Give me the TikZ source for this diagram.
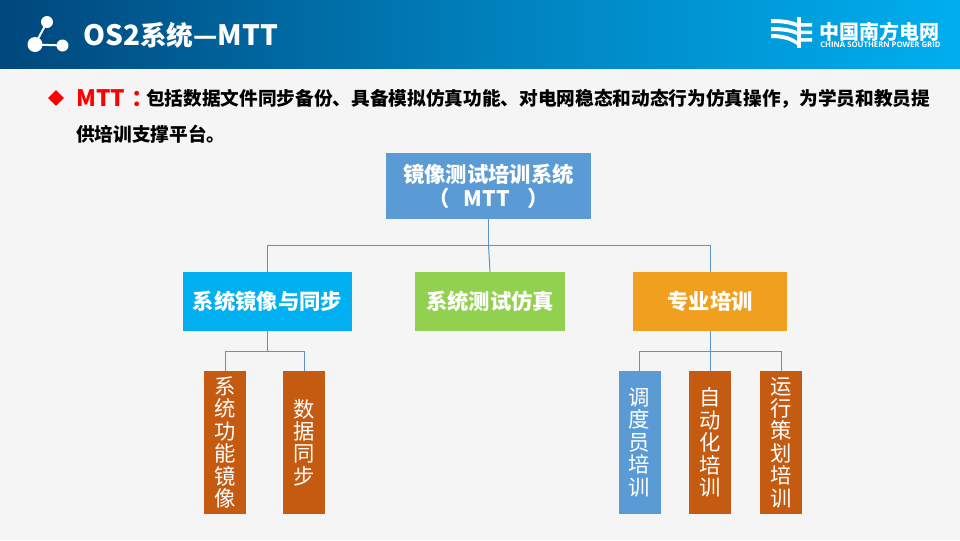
\documentclass[tikz,border=0pt]{standalone}
\usepackage{fontspec}
\setmainfont{Noto Sans CJK SC}
\newfontfamily\latinfont{Open Sans}
\usetikzlibrary{shapes.geometric}

\definecolor{pagegray}{HTML}{F5F5F5}
\definecolor{headdark}{HTML}{00477C}
\definecolor{headlight}{HTML}{00AEEF}
\definecolor{rootblue}{HTML}{5B9BD5}
\definecolor{skyblue}{HTML}{00B0F0}
\definecolor{leafgreen}{HTML}{92D050}
\definecolor{sysorange}{HTML}{F0A01E}
\definecolor{leafbrown}{HTML}{C55A11}
\definecolor{linkblue}{HTML}{5B93C4}

\tikzset{
  box/.style={fill=#1, text=white, inner sep=0pt, align=center, font=\fontsize{16pt}{18pt}\selectfont\bfseries},
  leaf/.style={fill=#1, text=white, inner sep=0pt, align=center, minimum width=31.5pt, minimum height=107pt, font=\fontsize{16pt}{16.8pt}\selectfont},
  link/.style={draw=linkblue, line width=0.75pt},
}

\begin{document}
\begin{tikzpicture}[x=0.75pt, y=-0.75pt]

\useasboundingbox (0,0) rectangle (960,540);
\fill[pagegray] (0,0) rectangle (960,540);
\shade[left color=headdark, right color=headlight, middle color=headlight!55!headdark] (0,0) rectangle (960,68);

% title icon
\draw[white, line width=1.5pt] (47,22) -- (35,44.5) -- (62.5,45.5);
\fill[white] (47,22) circle (6) (35,44.5) circle (7.5) (62.5,45.5) circle (6);
\node[text=white, anchor=west, inner sep=0pt, font=\fontsize{21pt}{24pt}\selectfont\bfseries] (title) at (83,35) {OS2\fontsize{20pt}{24pt}\selectfont 系统—\fontsize{21pt}{24pt}\selectfont MTT};

% logo
\fill[white] (797,17) rectangle (801,48);
\fill[white] (801,23) rectangle (812,26.5) (801,30.5) rectangle (812,34) (801,38) rectangle (812,41.5);
\fill[white] (771,19) .. controls (782,19) and (790,20) .. (797,23) -- (797,27) .. controls (790,24) and (782,23) .. (771,23) -- cycle;
\fill[white] (771,27) .. controls (782,27) and (790,28) .. (797,31) -- (797,35) .. controls (790,32) and (782,31) .. (771,31) -- cycle;
\fill[white] (771,34) .. controls (782,34) and (790,36) .. (797,41) -- (797,45) .. controls (790,40) and (782,38) .. (771,38) -- cycle;
\node[text=white, anchor=west, inner sep=0pt, font=\fontsize{15pt}{18pt}\selectfont\bfseries] (logotext) at (819,32) {中国南方电网};
\node[text=white, anchor=west, inner sep=0pt, font=\latinfont\fontsize{5.8pt}{6pt}\selectfont\bfseries] (logosub) at (820,45) {CHINA SOUTHERN POWER GRID};

% bullet text
\node[diamond, fill=red, inner sep=0pt, minimum size=12pt] (bullet) at (56,98) {};
\node[text=red, anchor=west, inner sep=0pt, font=\fontsize{17pt}{20pt}\selectfont\bfseries] (mtt) at (76,98) {MTT\hspace{5pt}：};
\node[anchor=west, inner sep=0pt, font=\fontsize{14pt}{18pt}\selectfont\bfseries] (line1) at (146,99) {包括数据文件同步备份、具备模拟仿真功能、对电网稳态和动态行为仿真操作，为学员和教员提};
\node[anchor=west, inner sep=0pt, font=\fontsize{14pt}{18pt}\selectfont\bfseries] (line2) at (76,134) {供培训支撑平台。};

% boxes
\node[box=rootblue, minimum width=153.75pt, minimum height=49.5pt] (root) at (488.5,186) {镜像测试培训系统\\（\hspace{10.5pt}MTT\hspace{13pt}）};
\node[box=skyblue, minimum width=126.75pt, minimum height=44.25pt] (sync) at (267.5,301.5) {系统镜像与同步};
\node[box=leafgreen, minimum width=112.5pt, minimum height=44.25pt] (test) at (490,301.5) {系统测试仿真};
\node[box=sysorange, minimum width=115.5pt, minimum height=44.25pt] (train) at (710,301.5) {专业培训};

\node[leaf=leafbrown] (mirror) at (225,442.5) {系\\统\\功\\能\\镜\\像};
\node[leaf=leafbrown] (data) at (304,442.5) {数\\据\\同\\步};
\node[leaf=rootblue] (dispatch) at (639.5,442.5) {调\\度\\员\\培\\训};
\node[leaf=leafbrown] (auto) at (710,442.5) {自\\动\\化\\培\\训};
\node[leaf=leafbrown] (plan) at (781,442.5) {运\\行\\策\\划\\培\\训};

% links
\coordinate (rootjoin) at (root.south |- 0,245);
\coordinate (syncjoin) at (sync.north |- 0,351);
\coordinate (trainjoin) at (train.south |- 0,351);
\draw[link] (root.south) -- (rootjoin);
\draw[link] (rootjoin) -- (rootjoin -| sync.north) -- (sync.north);
\draw[link] (rootjoin) -- (rootjoin -| train.north) -- (train.north);
\draw[link] (rootjoin) -- (test.north);
\draw[link] (sync.south) -- (syncjoin);
\draw[link] (mirror.north) -- (mirror.north |- syncjoin) -- (data.north |- syncjoin) -- (data.north);
\draw[link] (train.south) -- (auto.north);
\draw[link] (dispatch.north) -- (dispatch.north |- trainjoin) -- (plan.north |- trainjoin) -- (plan.north);

\end{tikzpicture}
\end{document}
